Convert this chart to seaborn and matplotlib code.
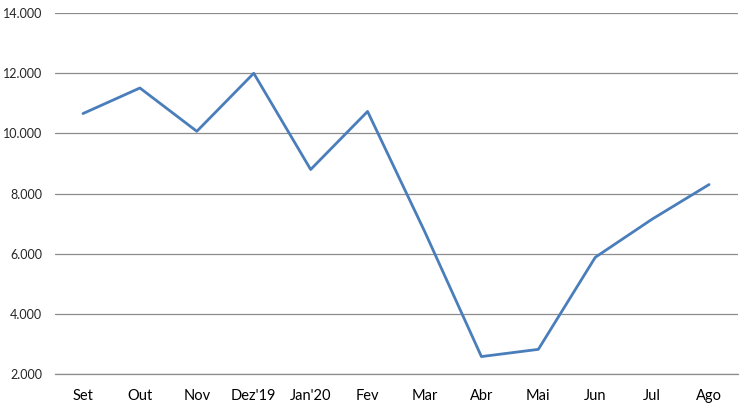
import numpy as np
import pandas as pd
import seaborn as sns
from matplotlib import pyplot as plt
from matplotlib.ticker import FuncFormatter, FixedLocator

months = ["Set", "Out", "Nov", "Dez'19", "Jan'20", "Fev", "Mar", "Abr", "Mai", "Jun", "Jul", "Ago"]
values = [10660, 11510, 10070, 12000, 8800, 10730, 6750, 2580, 2820, 5880, 7150, 8300]

df = pd.DataFrame({'mes': months, 'valor': values})

sns.set_style('white')
plt.rcParams['font.family'] = ['Lato', 'DejaVu Sans']

fig = plt.figure(figsize=(7.5, 4.12), dpi=100)
ax = fig.add_axes([0.0727, 0.0922, 0.9107, 0.876])

sns.lineplot(data=df, x='mes', y='valor', sort=False, color='#4a7ebb', linewidth=2.0, ax=ax)

ax.set_ylim(2000, 14000)
ax.set_yticks(np.arange(2000, 14001, 2000))
ax.yaxis.set_major_formatter(FuncFormatter(lambda v, p: f'{v:,.0f}'.replace(',', '.')))
ax.set_xlim(-0.5, len(months) - 0.5)
ax.xaxis.set_minor_locator(FixedLocator(np.arange(-0.5, len(months), 1.0)))

ax.grid(axis='y', color='#8c8c8c', linewidth=0.9)
ax.set_axisbelow(True)
for s in ['top', 'right', 'left']:
    ax.spines[s].set_visible(False)
ax.spines['bottom'].set_color('#8c8c8c')
ax.spines['bottom'].set_linewidth(0.9)

ax.tick_params(axis='x', which='major', length=0, labelsize=10.5, pad=11, colors='black')
ax.tick_params(axis='x', which='minor', length=5, width=0.9, color='#8c8c8c', direction='out')
ax.tick_params(axis='y', length=0, labelsize=9, pad=9)
ax.set_xlabel('')
ax.set_ylabel('')

plt.savefig('out.png', dpi=100)
